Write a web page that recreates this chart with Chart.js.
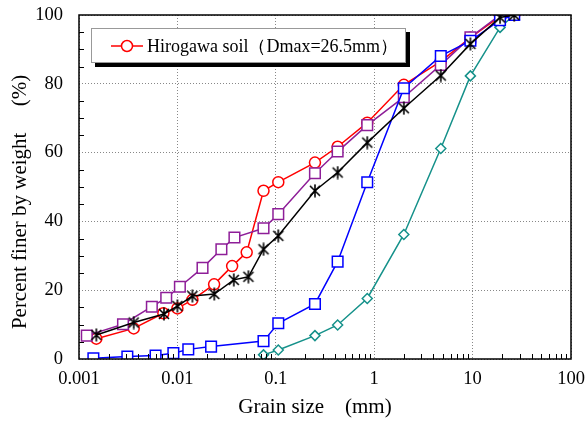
<!DOCTYPE html>
<html>
<head>
<meta charset="utf-8">
<script src="https://cdn.jsdelivr.net/npm/chart.js@4"></script>
<style>
  body { margin: 0; background: #fff; }
  #wrap { position: relative; width: 587px; height: 423px; }
  #legend {
    position: absolute; left: 91px; top: 28px; width: 313px; height: 33px;
    background: #fff; border: 1px solid #999; box-shadow: 4px 4px 0 #000;
    font-family: "Liberation Serif", "Times New Roman", serif; font-size: 18px;
    display: flex; align-items: center; white-space: nowrap;
  }
  #legend svg { margin-left: 19px; margin-right: 4px; }
</style>
</head>
<body>
<div id="wrap">
  <canvas id="chart" width="587" height="423"></canvas>
  <div id="legend">
    <svg width="32" height="14"><line x1="0" y1="7" x2="32" y2="7" stroke="#ff0000" stroke-width="1.5"/><circle cx="16" cy="7" r="5.5" fill="#fff" stroke="#ff0000" stroke-width="1.5"/></svg>
    <span>Hirogawa soil（Dmax=26.5mm）</span>
  </div>
</div>
<script>
// grain size (mm) and percent finer for each curve
const redSizes = [0.0015, 0.0036, 0.0072, 0.01, 0.0142, 0.0236, 0.036, 0.0506, 0.075, 0.106, 0.25, 0.425, 0.85, 2, 4.75, 9.5, 19, 26.5];
const redValues = [5.9, 8.9, 13.3, 14.7, 17.2, 21.7, 27.0, 31.0, 48.9, 51.4, 57.1, 61.7, 68.7, 79.7, 86.5, 93.4, 99.6, 100];

const purpleSizes = [0.0012, 0.0028, 0.0055, 0.0077, 0.0106, 0.018, 0.028, 0.038, 0.075, 0.106, 0.25, 0.425, 0.85, 2, 4.75, 9.5, 19];
const purpleValues = [6.8, 10.1, 15.2, 17.8, 21.0, 26.5, 31.9, 35.3, 38.0, 42.1, 54.0, 60.3, 68.0, 76.1, 85.5, 93.5, 100];

const blackSizes = [0.0015, 0.0036, 0.0073, 0.01, 0.0142, 0.0237, 0.0374, 0.0527, 0.075, 0.106, 0.25, 0.425, 0.85, 2, 4.75, 9.5, 19, 26.5];
const blackValues = [7.0, 10.6, 13.1, 15.4, 18.3, 18.9, 23.0, 23.9, 31.9, 35.8, 48.9, 54.2, 62.9, 72.9, 82.4, 91.6, 99.3, 100];

const blueSizes = [0.0014, 0.0031, 0.006, 0.0091, 0.0129, 0.022, 0.075, 0.106, 0.25, 0.425, 0.85, 2, 4.75, 9.5, 19, 26.5];
const blueValues = [0.2, 0.7, 1.0, 1.7, 2.8, 3.6, 5.2, 10.4, 16.0, 28.3, 51.4, 78.7, 88.1, 92.5, 98.5, 100];

const tealSizes = [0.075, 0.106, 0.25, 0.425, 0.85, 2, 4.75, 9.5, 19, 26.5];
const tealValues = [1.2, 2.6, 6.8, 9.9, 17.6, 36.2, 61.2, 82.3, 96.4, 100];

const xDecades = [0.001, 0.01, 0.1, 1, 10, 100];
const yTicks = [0, 20, 40, 60, 80, 100];

const serif = '"Liberation Serif", "Times New Roman", serif';

// asterisk marker: X plus a vertical stroke
function makeAsterisk() {
  const c = document.createElement('canvas');
  c.width = 14; c.height = 14;
  const g = c.getContext('2d');
  g.strokeStyle = '#000';
  g.lineWidth = 1.6;
  g.beginPath();
  g.moveTo(2, 2); g.lineTo(12, 12);
  g.moveTo(12, 2); g.lineTo(2, 12);
  g.moveTo(7, 0.5); g.lineTo(7, 13.5);
  g.stroke();
  return c;
}

function pts(sizes, values) {
  return sizes.map((s, i) => ({ x: s, y: values[i] }));
}

function series(label, sizes, values, color, style, radius) {
  return {
    label: label,
    data: pts(sizes, values),
    borderColor: color,
    backgroundColor: color,
    pointBackgroundColor: '#fff',
    pointBorderColor: color,
    pointStyle: style,
    pointRadius: radius,
    pointBorderWidth: 1.5,
    borderWidth: 1.5,
    showLine: true,
    tension: 0,
  };
}

// inner ticks, frame and axis titles
const framePlugin = {
  id: 'frame',
  afterDraw(chart) {
    const { ctx, chartArea: a, scales } = chart;
    ctx.save();
    ctx.strokeStyle = '#000';
    ctx.lineWidth = 1;
    ctx.beginPath();
    xDecades.slice(0, -1).forEach(d => {
      for (let k = 2; k <= 9; k++) {
        const px = Math.round(scales.x.getPixelForValue(d * k)) + 0.5;
        ctx.moveTo(px, a.bottom);
        ctx.lineTo(px, a.bottom - 5);
      }
    });
    for (let v = 5; v < 100; v += 5) {
      if (v % 20 === 0) continue;
      const py = Math.round(scales.y.getPixelForValue(v)) + 0.5;
      ctx.moveTo(a.left, py);
      ctx.lineTo(a.left + 5, py);
    }
    ctx.stroke();
    ctx.lineWidth = 1.5;
    ctx.strokeRect(a.left, a.top, a.right - a.left, a.bottom - a.top);

    ctx.fillStyle = '#000';
    ctx.font = '21px ' + serif;
    ctx.textAlign = 'center';
    ctx.textBaseline = 'middle';
    ctx.fillText('Grain size　(mm)', 315, 407);
    ctx.translate(20, 202);
    ctx.rotate(-Math.PI / 2);
    ctx.fillText('Percent finer by weight　 (%)', 0, 0);
    ctx.restore();
  }
};

new Chart(document.getElementById('chart'), {
  type: 'scatter',
  data: {
    datasets: [
      series('black', blackSizes, blackValues, '#000000', makeAsterisk(), 7),
      series('blue', blueSizes, blueValues, '#0000ff', 'rect', 7.5),
      series('purple', purpleSizes, purpleValues, '#8e1e98', 'rect', 7.5),
      series('Hirogawa soil', redSizes, redValues, '#ff0000', 'circle', 5.5),
      series('teal', tealSizes, tealValues, '#15918a', 'rectRot', 5),
    ]
  },
  options: {
    responsive: false,
    animation: false,
    layout: { autoPadding: false, padding: { top: 15, right: 16, left: 0, bottom: 0 } },
    plugins: {
      legend: { display: false },
      tooltip: { enabled: false },
    },
    scales: {
      x: {
        type: 'logarithmic',
        min: 0.001,
        max: 100,
        afterBuildTicks(scale) {
          scale.ticks = xDecades.map(v => ({ value: v }));
        },
        afterFit(scale) {
          scale.height = 64;
          scale.paddingLeft = 0;
          scale.paddingRight = 0;
        },
        ticks: {
          color: '#000',
          font: { family: serif, size: 18.5 },
          padding: 9,
          maxRotation: 0,
          autoSkip: false,
          callback: v => String(v),
        },
        grid: {
          color: '#888',
          lineWidth: 1,
          drawTicks: false,
        },
        border: { display: false, dash: [1, 2] },
      },
      y: {
        min: 0,
        max: 100,
        afterBuildTicks(scale) {
          scale.ticks = yTicks.map(v => ({ value: v }));
        },
        afterFit(scale) {
          scale.width = 79;
          scale.paddingTop = 0;
          scale.paddingBottom = 0;
        },
        ticks: {
          color: '#000',
          font: { family: serif, size: 18.5 },
          padding: 16,
        },
        grid: {
          color: '#888',
          lineWidth: 1,
          drawTicks: false,
        },
        border: { display: false, dash: [1, 2] },
      }
    }
  },
  plugins: [framePlugin]
});
</script>
</body>
</html>
